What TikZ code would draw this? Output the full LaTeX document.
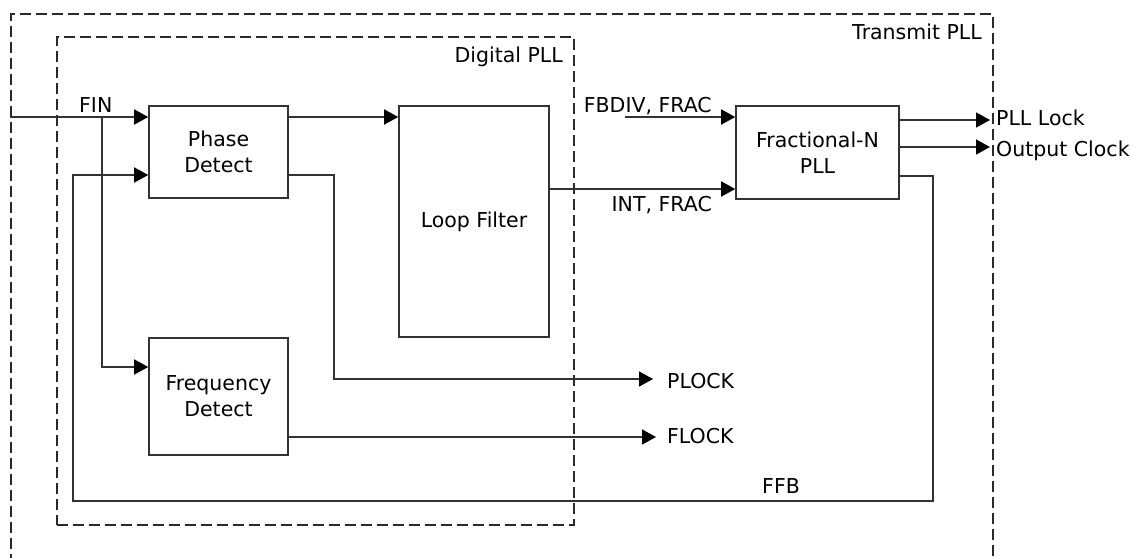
\documentclass[tikz,border=0pt]{standalone}
\usepackage{fontspec}
\setmainfont{DejaVu Sans}
\usetikzlibrary{arrows.meta}
\definecolor{linecol}{HTML}{333333}
\definecolor{dashcol}{HTML}{2A2A2A}
\begin{document}
\begin{tikzpicture}[x=1pt,y=-1pt,
  txt/.style={font=\fontsize{20.5}{26}\selectfont, text=black},
  blk/.style={txt, draw=linecol, line width=1.6pt, fill=white, inner sep=0pt, align=center},
  lbl/.style={txt, inner sep=0pt},
  wire/.style={draw=linecol, line width=1.6pt},
  arr/.style={wire, -{Triangle[length=14pt,width=15pt,color=black]}},
  dashbox/.style={draw=dashcol, line width=1.5pt, dash pattern=on 11pt off 5pt, inner sep=0pt}]
\useasboundingbox (0,0) rectangle (1131,557);
% containers
\node[dashbox, anchor=north west, minimum width=982pt, minimum height=600pt] (tpll) at (10,13) {};
\node[lbl, anchor=base east] (tpllname) at (982,39) {Transmit PLL};
\node[dashbox, anchor=north west, minimum width=517pt, minimum height=488pt] (dpll) at (56,36) {};
\node[lbl, anchor=base east] (dpllname) at (563,62) {Digital PLL};
% blocks
\node[blk, minimum width=139pt, minimum height=92pt] (pd) at (218.5,152) {Phase\\Detect};
\node[blk, minimum width=150pt, minimum height=231pt] (lf) at (474,221.5) {Loop Filter};
\node[blk, minimum width=139pt, minimum height=117pt] (fd) at (218.5,396.5) {Frequency\\Detect};
\node[blk, minimum width=163pt, minimum height=93pt] (fn) at (817.5,152.5) {Fractional-N\\PLL};
% labels
\node[lbl, anchor=base west] (fin) at (79,112) {FIN};
\node[lbl, anchor=base east] (fbdivl) at (712,112) {FBDIV, FRAC};
\node[lbl, anchor=base east] (intl) at (712,211) {INT, FRAC};
\node[lbl, anchor=base west] (plllock) at (996,125) {PLL Lock};
\node[lbl, anchor=base west] (outclk) at (996,156) {Output Clock};
\node[lbl, anchor=base west] (plock) at (667,388) {PLOCK};
\node[lbl, anchor=base west] (flock) at (667,443) {FLOCK};
\node[lbl, anchor=base west] (ffb) at (762,493) {FFB};
% free ends
\coordinate (finin) at (10,117);
\coordinate (finbr) at (102,117);
\coordinate (fbdin) at (625,117);
\coordinate (pbend) at (334,379);
\coordinate (fbr) at (933,501);
\coordinate (fbl) at (73,175);
% connectors
\draw[arr] (finin) -- (pd.west |- finin);
\draw[arr] (finbr) |- (fd.west |- 0,367);
\draw[arr] (pd.east |- finin) -- (lf.west |- finin);
\draw[arr] (fbdin) -- (fn.west |- fbdin);
\draw[arr] (lf.east |- 0,189) -- (fn.west |- 0,189);
\draw[arr] (fn.east |- 0,120) -- ([xshift=-6pt]plllock.west |- 0,120);
\draw[arr] (fn.east |- 0,147) -- ([xshift=-6pt]outclk.west |- 0,147);
\draw[arr] (pd.east |- 0,175) -| (pbend) -- ([xshift=-14pt]plock.west |- pbend);
\draw[arr] (fd.east |- 0,437) -- ([xshift=-11pt]flock.west |- 0,437);
\draw[arr] (fn.east |- 0,176) -| (fbr) -| (fbl) -- (pd.west |- fbl);
\end{tikzpicture}
\end{document}
